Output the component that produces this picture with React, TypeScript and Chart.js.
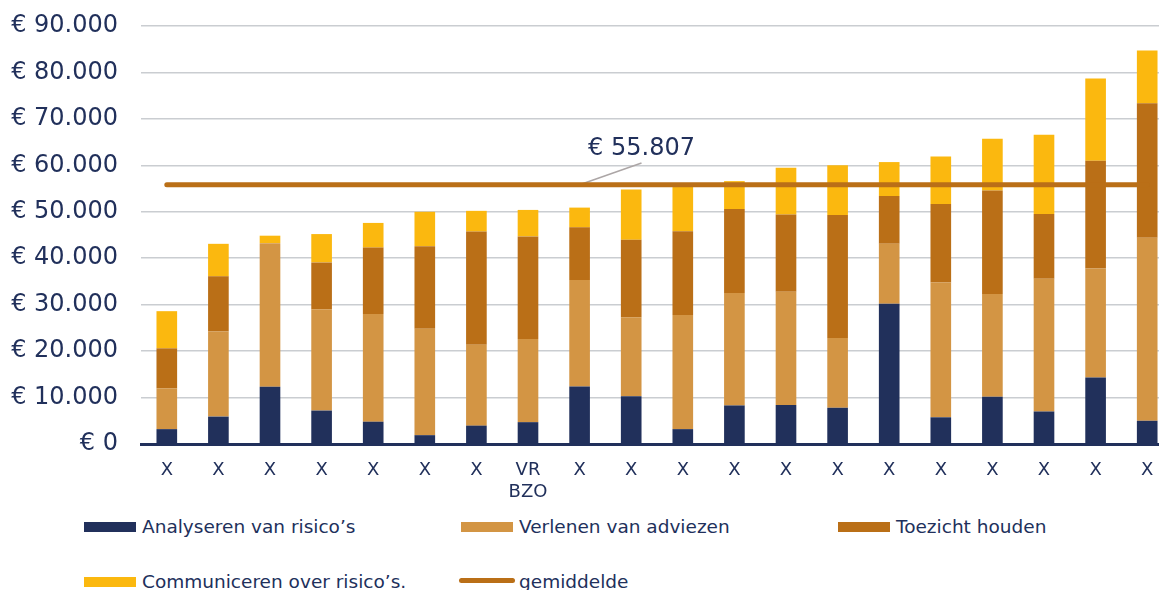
import React, { useEffect, useRef } from "react";
import { Chart, registerables } from "chart.js";

Chart.register(...registerables);

const categories: (string | string[])[] = [
  "X", "X", "X", "X", "X", "X", "X", ["VR", "BZO"], "X", "X",
  "X", "X", "X", "X", "X", "X", "X", "X", "X", "X",
];

const analyseren = [3200, 5900, 12350, 7200, 4800, 1900, 3950, 4700, 12400, 10300, 3200, 8300, 8400, 7800, 30200, 5750, 10200, 7000, 14300, 5000];
const verlenen = [8800, 18300, 30900, 21800, 23200, 22900, 17400, 17900, 22900, 17000, 24600, 24200, 24400, 15000, 12900, 29000, 22100, 28600, 23500, 39400];
const toezicht = [8600, 11900, 0, 10100, 14300, 17800, 24400, 22100, 11350, 16700, 18000, 18100, 16600, 26500, 10300, 16950, 22300, 13900, 23200, 28950];
const communiceren = [8000, 7000, 1600, 6100, 5300, 7400, 4450, 5700, 4250, 10800, 10200, 6000, 10100, 10700, 7300, 10200, 11100, 17100, 17700, 11350];

const averageValue = 55807;
const averageSeries = categories.map(() => averageValue);
const averageLabel = "€ 55.807";

const seriesNames = [
  "Analyseren van risico’s",
  "Verlenen van adviezen",
  "Toezicht houden",
  "Communiceren over risico’s.",
  "gemiddelde",
];

const NAVY = "#21305B";
const LIGHT = "#D39544";
const DARK = "#BA6F17";
const YELLOW = "#FBB80F";
const GRID = "#CACDD1";
const FONT = "'DejaVu Sans', Verdana, sans-serif";

const fmt = (v: number) => "€ " + String(v).replace(/\B(?=(\d{3})+(?!\d))/g, ".");

const annotationPlugin = {
  id: "avgAnnotation",
  beforeDatasetsDraw(chart: any) {
    const { ctx, scales } = chart;
    const x = scales.x;
    const y = scales.y;
    const x0 = x.getPixelForValue(8);
    const y0 = y.getPixelForValue(averageValue);
    const x1 = x.getPixelForValue(9.2);
    const y1 = y.getPixelForValue(60500);
    ctx.save();
    ctx.strokeStyle = "#ACA6A6";
    ctx.lineWidth = 1.5;
    ctx.beginPath();
    ctx.moveTo(x0, y0);
    ctx.lineTo(x1, y1);
    ctx.stroke();
    ctx.fillStyle = NAVY;
    ctx.font = "24px " + FONT;
    ctx.textAlign = "center";
    ctx.textBaseline = "alphabetic";
    ctx.fillText(averageLabel, x1, y.getPixelForValue(62300));
    ctx.restore();
  },
};

function ChartCanvas() {
  const ref = useRef<HTMLCanvasElement | null>(null);
  useEffect(() => {
    if (!ref.current) return;
    const chart = new Chart(ref.current, {
      type: "bar",
      data: {
        labels: categories,
        datasets: [
          { type: "line", label: seriesNames[4], data: averageSeries, borderColor: DARK, backgroundColor: DARK, borderWidth: 5, borderCapStyle: "round", pointRadius: 0, order: 0, stack: "avg" } as any,
          { label: seriesNames[0], data: analyseren, backgroundColor: NAVY, order: 1, stack: "s" },
          { label: seriesNames[1], data: verlenen, backgroundColor: LIGHT, order: 1, stack: "s" },
          { label: seriesNames[2], data: toezicht, backgroundColor: DARK, order: 1, stack: "s" },
          { label: seriesNames[3], data: communiceren, backgroundColor: YELLOW, order: 1, stack: "s" },
        ],
      },
      options: {
        animation: false,
        responsive: false,
        devicePixelRatio: 1,
        layout: { padding: { top: 26, right: 2, left: 0, bottom: 0 } },
        datasets: { bar: { barPercentage: 0.4, categoryPercentage: 1.0 } },
        plugins: { legend: { display: false }, tooltip: { enabled: false } },
        scales: {
          x: {
            stacked: true,
            grid: { display: false, drawTicks: false },
            border: { display: true, color: NAVY, width: 3 },
            ticks: { color: NAVY, font: { family: FONT, size: 18 }, padding: 16, autoSkip: false, maxRotation: 0 },
            afterFit: (s: any) => { s.height = 61; s.paddingLeft = 0; s.paddingRight = 0; },
          },
          y: {
            stacked: true,
            min: 0,
            max: 90000,
            grid: { color: GRID, lineWidth: 1.5, drawTicks: false },
            border: { display: false },
            ticks: { stepSize: 10000, color: NAVY, font: { family: FONT, size: 24 }, padding: 23, callback: (v: any) => fmt(Number(v)) },
            afterFit: (s: any) => { s.width = 141; s.paddingTop = 0; s.paddingBottom = 0; },
          },
        },
      } as any,
      plugins: [annotationPlugin],
    });
    return () => chart.destroy();
  }, []);
  return <canvas ref={ref} width={1175} height={505} style={{ position: "absolute", left: 0, top: 0 }} />;
}

const legendItems = [
  { name: seriesNames[0], color: NAVY, kind: "box", col: 0, row: 0 },
  { name: seriesNames[1], color: LIGHT, kind: "box", col: 1, row: 0 },
  { name: seriesNames[2], color: DARK, kind: "box", col: 2, row: 0 },
  { name: seriesNames[3], color: YELLOW, kind: "box", col: 0, row: 1 },
  { name: seriesNames[4], color: DARK, kind: "line", col: 1, row: 1 },
];

export default function App() {
  return (
    <div style={{ position: "fixed", left: 0, top: 0, width: 1159, height: 590, overflow: "hidden", background: "#fff" }}>
      <ChartCanvas />
      {legendItems.map((it, i) => {
        const left = 84 + it.col * 377;
        const top = 521.7 + it.row * 55;
        return (
          <React.Fragment key={i}>
            {it.kind === "box" ? (
              <div style={{ position: "absolute", left, top, width: 52, height: 10, background: it.color }} />
            ) : (
              <div style={{ position: "absolute", left: left - 2, top: top + 1.5, width: 56, height: 5, borderRadius: 3, background: it.color }} />
            )}
            <div style={{ position: "absolute", left: left + 58, top: top - 5.7, fontFamily: FONT, fontSize: 18.5, lineHeight: "22px", color: NAVY, whiteSpace: "nowrap" }}>
              {it.name}
            </div>
          </React.Fragment>
        );
      })}
    </div>
  );
}
